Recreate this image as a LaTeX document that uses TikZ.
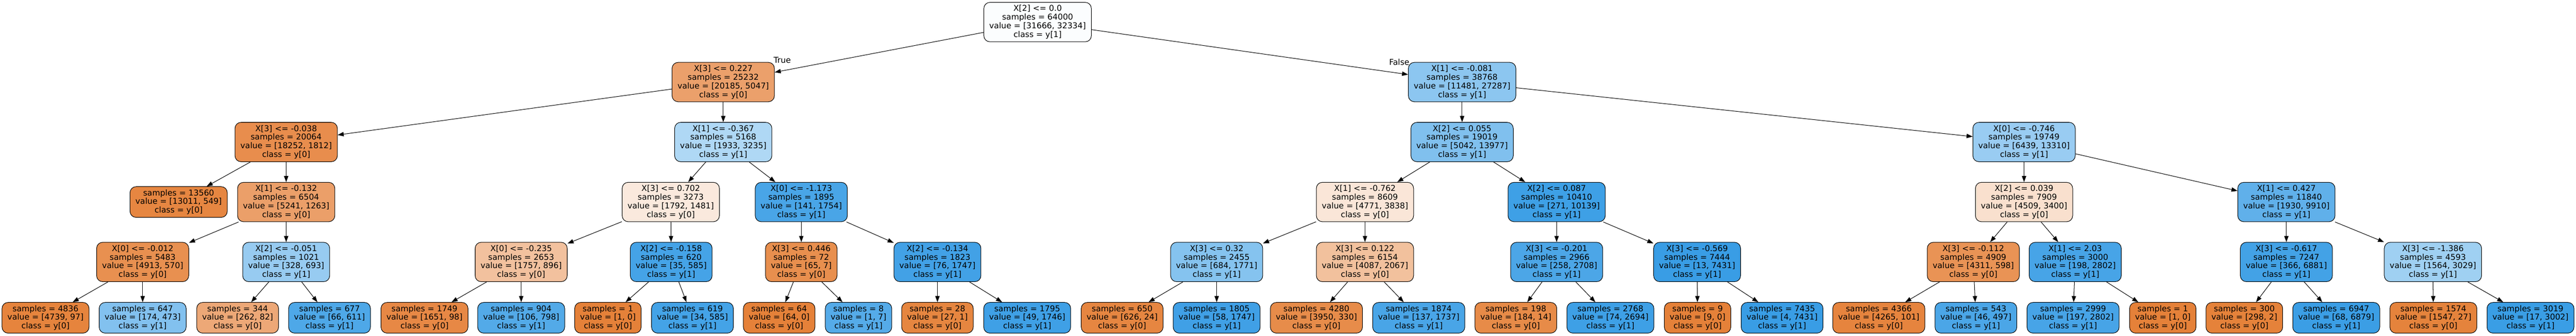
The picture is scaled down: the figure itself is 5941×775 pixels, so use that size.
\documentclass[tikz,border=0pt]{standalone}
\usepackage{fontspec}
\setmainfont{DejaVu Sans}
\usetikzlibrary{arrows.meta}
\definecolor{czero}{RGB}{229,129,57}
\definecolor{cone}{RGB}{57,157,229}
\begin{document}
\begin{tikzpicture}[x=1pt,y=-1pt,
 box/.style={draw=black, line width=1.2pt, rounded corners=14pt, align=center, inner xsep=12.5pt, inner ysep=4pt, font={\fontsize{18.6pt}{20pt}\selectfont}},
 split/.style={box, minimum height=91pt},
 leaf/.style={box, minimum height=71pt},
 edge/.style={line width=1.2pt, -{Triangle[length=14pt,width=10pt]}},
 lab/.style={font={\fontsize{18.6pt}{20pt}\selectfont}, inner sep=0pt, anchor=base}]
\useasboundingbox (0,0) rectangle (5941,775);
\def\rA{51}\def\rB{189.5}\def\rC{328}\def\rD{466.5}\def\rE{605}\def\rF{733.8}
% rank 0
\node[split, fill=cone!2.1!white] (n0) at (2393,\rA) {X[2] <= 0.0\\samples = 64000\\value = [31666, 32334]\\class = y[1]};
% rank 1
\node[split, fill=czero!75!white] (n1) at (1668,\rB) {X[3] <= 0.227\\samples = 25232\\value = [20185, 5047]\\class = y[0]};
\node[split, fill=cone!57.9!white] (n2) at (3372,\rB) {X[1] <= -0.081\\samples = 38768\\value = [11481, 27287]\\class = y[1]};
% rank 2
\node[split, fill=czero!90.1!white] (n3) at (660,\rC) {X[3] <= -0.038\\samples = 20064\\value = [18252, 1812]\\class = y[0]};
\node[split, fill=cone!40.2!white] (n4) at (1668,\rC) {X[1] <= -0.367\\samples = 5168\\value = [1933, 3235]\\class = y[1]};
\node[split, fill=cone!63.9!white] (n5) at (3372,\rC) {X[2] <= 0.055\\samples = 19019\\value = [5042, 13977]\\class = y[1]};
\node[split, fill=cone!51.6!white] (n6) at (4668,\rC) {X[0] <= -0.746\\samples = 19749\\value = [6439, 13310]\\class = y[1]};
% rank 3
\node[leaf, fill=czero!95.8!white] (n7) at (412,\rD) {samples = 13560\\value = [13011, 549]\\class = y[0]};
\node[split, fill=czero!75.9!white] (n8) at (660,\rD) {X[1] <= -0.132\\samples = 6504\\value = [5241, 1263]\\class = y[0]};
\node[split, fill=czero!17.4!white] (n9) at (1547,\rD) {X[3] <= 0.702\\samples = 3273\\value = [1792, 1481]\\class = y[0]};
\node[split, fill=cone!92!white] (n10) at (1848,\rD) {X[0] <= -1.173\\samples = 1895\\value = [141, 1754]\\class = y[1]};
\node[split, fill=czero!19.6!white] (n11) at (3148,\rD) {X[1] <= -0.762\\samples = 8609\\value = [4771, 3838]\\class = y[0]};
\node[split, fill=cone!97.3!white] (n12) at (3590,\rD) {X[2] <= 0.087\\samples = 10410\\value = [271, 10139]\\class = y[1]};
\node[split, fill=czero!24.6!white] (n13) at (4668,\rD) {X[2] <= 0.039\\samples = 7909\\value = [4509, 3400]\\class = y[0]};
\node[split, fill=cone!80.5!white] (n14) at (5273,\rD) {X[1] <= 0.427\\samples = 11840\\value = [1930, 9910]\\class = y[1]};
% rank 4
\node[split, fill=czero!88.4!white] (n15) at (329,\rE) {X[0] <= -0.012\\samples = 5483\\value = [4913, 570]\\class = y[0]};
\node[split, fill=cone!52.7!white] (n16) at (660,\rE) {X[2] <= -0.051\\samples = 1021\\value = [328, 693]\\class = y[1]};
\node[split, fill=czero!49!white] (n17) at (1202,\rE) {X[0] <= -0.235\\samples = 2653\\value = [1757, 896]\\class = y[0]};
\node[split, fill=cone!94!white] (n18) at (1548,\rE) {X[2] <= -0.158\\samples = 620\\value = [35, 585]\\class = y[1]};
\node[split, fill=czero!89.2!white] (n19) at (1848,\rE) {X[3] <= 0.446\\samples = 72\\value = [65, 7]\\class = y[0]};
\node[split, fill=cone!95.6!white] (n20) at (2162,\rE) {X[2] <= -0.134\\samples = 1823\\value = [76, 1747]\\class = y[1]};
\node[split, fill=cone!61.4!white] (n21) at (2806,\rE) {X[3] <= 0.32\\samples = 2455\\value = [684, 1771]\\class = y[1]};
\node[split, fill=czero!49.4!white] (n22) at (3148,\rE) {X[3] <= 0.122\\samples = 6154\\value = [4087, 2067]\\class = y[0]};
\node[split, fill=cone!90.5!white] (n23) at (3590,\rE) {X[3] <= -0.201\\samples = 2966\\value = [258, 2708]\\class = y[1]};
\node[split, fill=cone!99.8!white] (n24) at (3914,\rE) {X[3] <= -0.569\\samples = 7444\\value = [13, 7431]\\class = y[1]};
\node[split, fill=czero!86.1!white] (n25) at (4551,\rE) {X[3] <= -0.112\\samples = 4909\\value = [4311, 598]\\class = y[0]};
\node[split, fill=cone!92.9!white] (n26) at (4786,\rE) {X[1] <= 2.03\\samples = 3000\\value = [198, 2802]\\class = y[1]};
\node[split, fill=cone!94.7!white] (n27) at (5273,\rE) {X[3] <= -0.617\\samples = 7247\\value = [366, 6881]\\class = y[1]};
\node[split, fill=cone!48.4!white] (n28) at (5611,\rE) {X[3] <= -1.386\\samples = 4593\\value = [1564, 3029]\\class = y[1]};
% rank 5 leaves
\node[leaf, fill=czero!98!white] (l1) at (105,\rF) {samples = 4836\\value = [4739, 97]\\class = y[0]};
\node[leaf, fill=cone!63.2!white] (l2) at (329,\rF) {samples = 647\\value = [174, 473]\\class = y[1]};
\node[leaf, fill=czero!68.7!white] (l3) at (548,\rF) {samples = 344\\value = [262, 82]\\class = y[0]};
\node[leaf, fill=cone!89.2!white] (l4) at (760,\rF) {samples = 677\\value = [66, 611]\\class = y[1]};
\node[leaf, fill=czero!94.1!white] (l5) at (979,\rF) {samples = 1749\\value = [1651, 98]\\class = y[0]};
\node[leaf, fill=cone!86.7!white] (l6) at (1202,\rF) {samples = 904\\value = [106, 798]\\class = y[1]};
\node[leaf, fill=czero] (l7) at (1402,\rF) {samples = 1\\value = [1, 0]\\class = y[0]};
\node[leaf, fill=cone!94.2!white] (l8) at (1597,\rF) {samples = 619\\value = [34, 585]\\class = y[1]};
\node[leaf, fill=czero] (l9) at (1797,\rF) {samples = 64\\value = [64, 0]\\class = y[0]};
\node[leaf, fill=cone!85.7!white] (l10) at (1980,\rF) {samples = 8\\value = [1, 7]\\class = y[1]};
\node[leaf, fill=czero!96.3!white] (l11) at (2162,\rF) {samples = 28\\value = [27, 1]\\class = y[0]};
\node[leaf, fill=cone!97.2!white] (l12) at (2369,\rF) {samples = 1795\\value = [49, 1746]\\class = y[1]};
\node[leaf, fill=czero!96.2!white] (l13) at (2588,\rF) {samples = 650\\value = [626, 24]\\class = y[0]};
\node[leaf, fill=cone!96.7!white] (l14) at (2806,\rF) {samples = 1805\\value = [58, 1747]\\class = y[1]};
\node[leaf, fill=czero!91.6!white] (l15) at (3036,\rF) {samples = 4280\\value = [3950, 330]\\class = y[0]};
\node[leaf, fill=cone!92.1!white] (l16) at (3272,\rF) {samples = 1874\\value = [137, 1737]\\class = y[1]};
\node[leaf, fill=czero!92.4!white] (l17) at (3496,\rF) {samples = 198\\value = [184, 14]\\class = y[0]};
\node[leaf, fill=cone!97.3!white] (l18) at (3714,\rF) {samples = 2768\\value = [74, 2694]\\class = y[1]};
\node[leaf, fill=czero] (l19) at (3915,\rF) {samples = 9\\value = [9, 0]\\class = y[0]};
\node[leaf, fill=cone!99.9!white] (l20) at (4110,\rF) {samples = 7435\\value = [4, 7431]\\class = y[1]};
\node[leaf, fill=czero!97.6!white] (l21) at (4333,\rF) {samples = 4366\\value = [4265, 101]\\class = y[0]};
\node[leaf, fill=cone!90.7!white] (l22) at (4557,\rF) {samples = 543\\value = [46, 497]\\class = y[1]};
\node[leaf, fill=cone!93!white] (l23) at (4781,\rF) {samples = 2999\\value = [197, 2802]\\class = y[1]};
\node[leaf, fill=czero] (l24) at (4988,\rF) {samples = 1\\value = [1, 0]\\class = y[0]};
\node[leaf, fill=czero!99.3!white] (l25) at (5176,\rF) {samples = 300\\value = [298, 2]\\class = y[0]};
\node[leaf, fill=cone!99!white] (l26) at (5388,\rF) {samples = 6947\\value = [68, 6879]\\class = y[1]};
\node[leaf, fill=czero!98.3!white] (l27) at (5612,\rF) {samples = 1574\\value = [1547, 27]\\class = y[0]};
\node[leaf, fill=cone!99.4!white] (l28) at (5836,\rF) {samples = 3019\\value = [17, 3002]\\class = y[1]};
% edge labels
\node[lab] (tlab) at (1804,145) {True};
\node[lab] (flab) at (3227,150) {False};
% edges
\foreach \a/\b in {n0/n1,n0/n2,n1/n3,n1/n4,n3/n7,n3/n8,n8/n15,n8/n16,n15/l1,n15/l2,n16/l3,n16/l4,
 n4/n9,n4/n10,n9/n17,n9/n18,n17/l5,n17/l6,n18/l7,n18/l8,n10/n19,n10/n20,n19/l9,n19/l10,n20/l11,n20/l12,
 n2/n5,n2/n6,n5/n11,n5/n12,n11/n21,n11/n22,n21/l13,n21/l14,n22/l15,n22/l16,n12/n23,n12/n24,n23/l17,n23/l18,n24/l19,n24/l20,
 n6/n13,n6/n14,n13/n25,n13/n26,n25/l21,n25/l22,n26/l23,n26/l24,n14/n27,n14/n28,n27/l25,n27/l26,n28/l27,n28/l28}
 \draw[edge] (\a) -- (\b);
\end{tikzpicture}
\end{document}
